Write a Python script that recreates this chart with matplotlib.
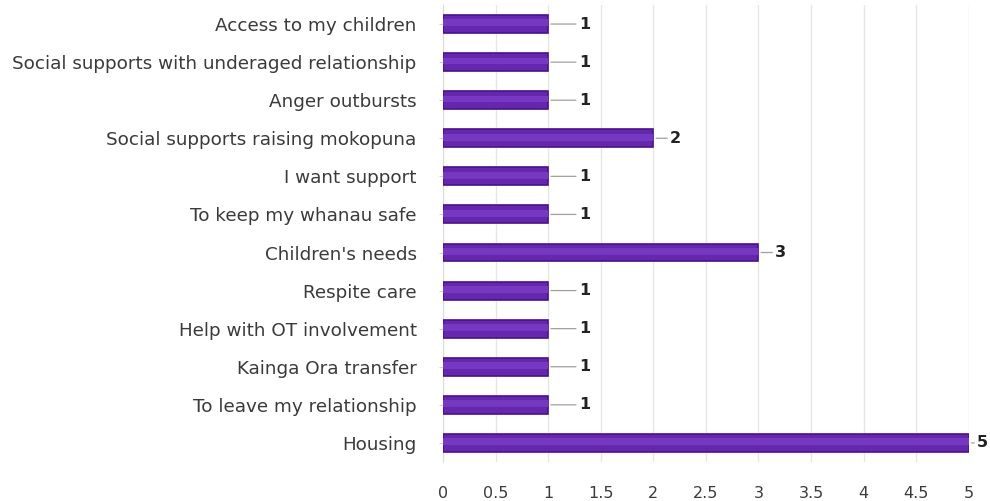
import matplotlib
matplotlib.use("Agg")
import matplotlib.pyplot as plt
import numpy as np

categories = [
    "Access to my children",
    "Social supports with underaged relationship",
    "Anger outbursts",
    "Social supports raising mokopuna",
    "I want support",
    "To keep my whanau safe",
    "Children's needs",
    "Respite care",
    "Help with OT involvement",
    "Kainga Ora transfer",
    "To leave my relationship",
    "Housing",
]
counts = [1, 1, 1, 2, 1, 1, 3, 1, 1, 1, 1, 5]
xticks = [0, 0.5, 1, 1.5, 2, 2.5, 3, 3.5, 4, 4.5, 5]
xtick_labels = ["0", "0.5", "1", "1.5", "2", "2.5", "3", "3.5", "4", "4.5", "5"]

plt.rcParams["font.family"] = ["DejaVu Sans"]

fig = plt.figure(figsize=(9.9, 5.01), dpi=100)
ax = fig.add_axes([0.4475, 0.078, 0.531, 0.912])

y = np.arange(len(categories))
ax.barh(y, counts, height=0.47, color="#6527ad", edgecolor="#4a1286",
        linewidth=1.2, zorder=3)
# inner highlight for a slightly raised look
ax.barh(y - 0.03, counts, height=0.18, color="#7638c0", linewidth=0, zorder=3.5)

for yi, v in zip(y, counts):
    # leader line + bold value label just past the bar end
    gap = 22 if v == 1 else (12 if v < 5 else 6)
    ax.annotate(str(v), xy=(v, yi), xytext=(gap, 0), textcoords="offset points",
                va="center", ha="left", fontsize=11.5, fontweight="bold",
                color="#222222", zorder=4, annotation_clip=False,
                arrowprops=dict(arrowstyle="-", color="#a0a0a0", lw=0.9,
                                shrinkA=0, shrinkB=2))

ax.set_xlim(0, 5)
ax.set_ylim(len(categories) - 0.5, -0.5)
ax.set_yticks(y)
ax.set_yticklabels(categories, fontsize=13.2, color="#3a3a3a")
ax.set_xticks(xticks)
ax.set_xticklabels(xtick_labels, fontsize=11.5, color="#3a3a3a")
ax.tick_params(axis="x", length=0, pad=17)
ax.tick_params(axis="y", length=3, color="#d0d0d0", pad=16)

ax.grid(axis="x", color="#e6e6e6", lw=1, zorder=0)
for s in ["top", "right", "bottom"]:
    ax.spines[s].set_visible(False)
ax.spines["left"].set_color("#dcdcdc")

fig.savefig("out.png", dpi=100, facecolor="white")
